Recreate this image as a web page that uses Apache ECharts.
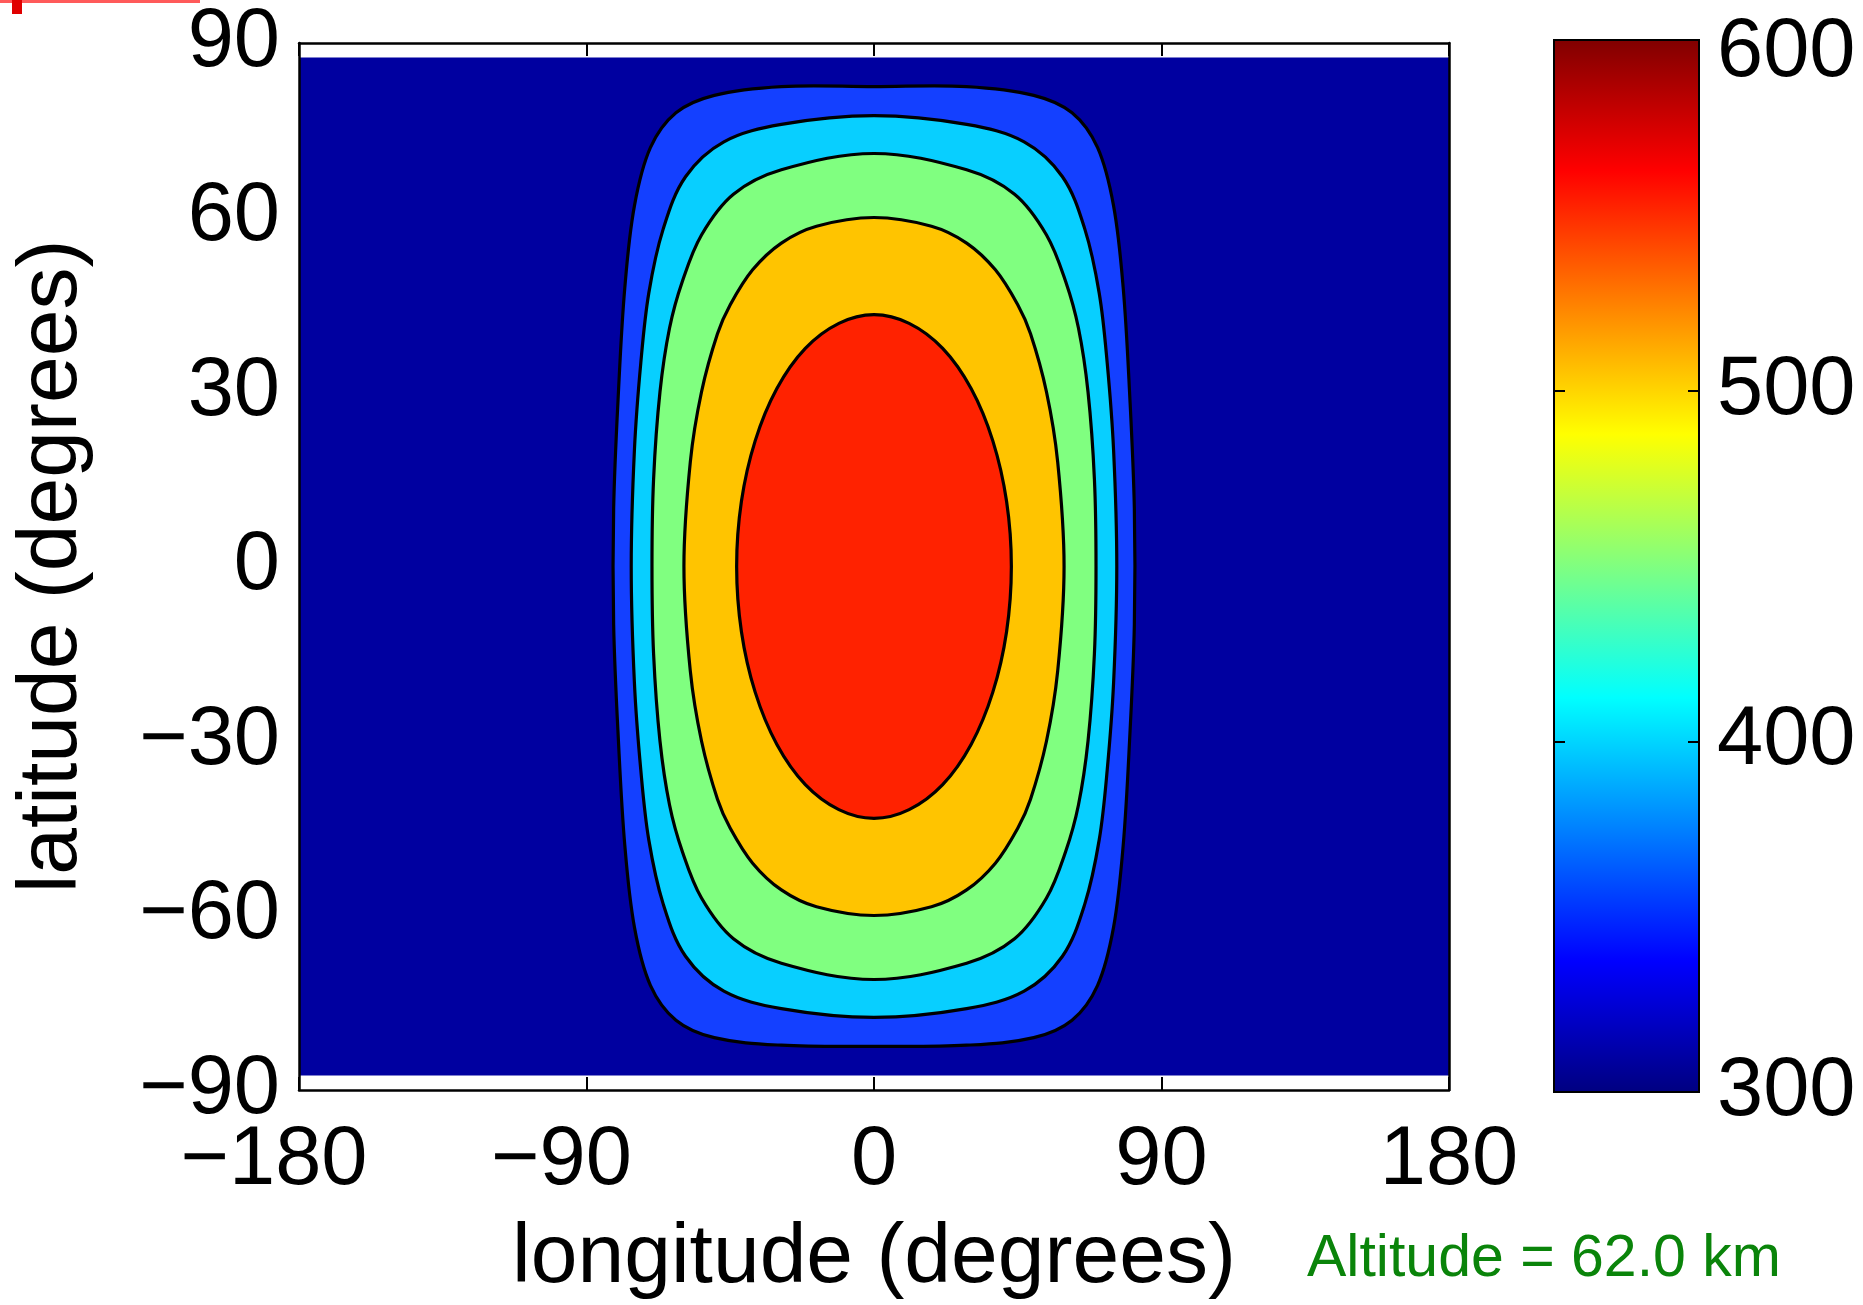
<!DOCTYPE html>
<html>
<head>
<meta charset="utf-8">
<title>Contour chart</title>
<script src="https://cdn.jsdelivr.net/npm/echarts@6/dist/echarts.min.js"></script>
<style>
html,body{margin:0;padding:0;background:#fff;}
#chart{width:1863px;height:1305px;}
</style>
</head>
<body>
<div id="chart"></div>
<script>
// ---------- data ----------
const lonTicks = [-180, -90, 0, 90, 180];
const lonTickLabels = ['\u2212180', '\u221290', '0', '90', '180'];
const latTicks = [-90, -60, -30, 0, 30, 60, 90];
const latTickLabels = ['\u221290', '\u221260', '\u221230', '0', '30', '60', '90'];
const cbarTicks = [300, 400, 500, 600];
const cbarTickLabels = ['300', '400', '500', '600'];
const cbarRange = [300, 600];
const jetColors = ['#000080', '#0000ff', '#0080ff', '#00ffff', '#80ff80', '#ffff00', '#ff8000', '#ff0000', '#800000'];
const bandColors = ['#0000a0', '#1440ff', '#08cfff', '#80ff80', '#ffc400', '#ff2200'];

// filled region of the data grid (lon, lat)
const dataDomain = [[-180, -87.5], [180, -87.5], [180, 87.5], [-180, 87.5]];

// contour lines (lon, lat), outermost first
const contourA = [[0,82.5],[29,82.5],[50,81],[62,78],[70,72],[75,62],[78,48],[80,30],[81.5,10],[81.5,-10],[80,-30],[78,-48],[75,-62],[70,-72],[62,-78],[50,-81],[29,-82.3],[0,-82.5],[-29,-82.3],[-50,-81],[-62,-78],[-70,-72],[-75,-62],[-78,-48],[-80,-30],[-81.5,-10],[-81.5,10],[-80,30],[-78,48],[-75,62],[-70,72],[-62,78],[-50,81],[-29,82.5]];
const contourB = [[0,77.5],[29,76],[47,73],[59,67],[66,58],[70.5,47],[73,35],[75,20],[76,0],[75,-20],[73,-35],[70.5,-47],[66,-58],[59,-67],[47,-73],[29,-76],[0,-77.5],[-29,-76],[-47,-73],[-59,-67],[-66,-58],[-70.5,-47],[-73,-35],[-75,-20],[-76,0],[-75,20],[-73,35],[-70.5,47],[-66,58],[-59,67],[-47,73],[-29,76]];
const contourC = [[0,71],[29,68.2],[44,64],[54,57],[60,49],[64,41],[67,30],[69,15],[69.5,0],[69,-15],[67,-30],[64,-41],[60,-49],[54,-57],[44,-64],[29,-68.2],[0,-71],[-29,-68.2],[-44,-64],[-54,-57],[-60,-49],[-64,-41],[-67,-30],[-69,-15],[-69.5,0],[-69,15],[-67,30],[-64,41],[-60,49],[-54,57],[-44,64],[-29,68.2]];
const contourD = [[0,60],[18,58.5],[29,55.6],[38,51],[45,45],[49,40],[54,30],[57.5,18],[59.5,0],[57.5,-18],[54,-30],[49,-40],[45,-45],[38,-51],[29,-55.6],[18,-58.5],[0,-60],[-18,-58.5],[-29,-55.6],[-38,-51],[-45,-45],[-49,-40],[-54,-30],[-57.5,-18],[-59.5,0],[-57.5,18],[-54,30],[-49,40],[-45,45],[-38,51],[-29,55.6],[-18,58.5]];
const contourE = [[0,43.3],[11,41.8],[21.5,37.5],[30.4,30.6],[37.2,21.6],[41.5,11.2],[43,0],[41.5,-11.2],[37.2,-21.6],[30.4,-30.6],[21.5,-37.5],[11,-41.8],[0,-43.3],[-11,-41.8],[-21.5,-37.5],[-30.4,-30.6],[-37.2,-21.6],[-41.5,-11.2],[-43,0],[-41.5,11.2],[-37.2,21.6],[-30.4,30.6],[-21.5,37.5],[-11,41.8]];

const FONT = '"Liberation Sans", Arial, Helvetica, sans-serif';
const TICK_FS = 83;

function lookup(values, labels) {
  return function (v) {
    for (let i = 0; i < values.length; i++) if (Math.abs(values[i] - v) < 1e-6) return labels[i];
    return '';
  };
}
// x labels: keep digits centred on the tick, the minus sign hangs to the left
function lonFormatter(v) {
  const s = lookup(lonTicks, lonTickLabels)(v);
  return s.charAt(0) === '\u2212' ? s + '{pad| }' : s;
}
// colour bar: top label sits a little lower than its tick
function cbarFormatter(v) {
  const s = lookup(cbarTicks, cbarTickLabels)(v);
  return v === cbarRange[1] ? '{top|' + s + '}' : s;
}

function polySeries(points, fill, stroke) {
  return {
    type: 'custom',
    coordinateSystem: 'cartesian2d',
    xAxisIndex: 0, yAxisIndex: 0,
    z: 2,
    silent: true,
    clip: false,
    encode: { x: 0, y: 1 },
    data: points,
    renderItem: function (params, api) {
      if (params.dataIndex !== 0) return null;
      const pts = points.map(p => api.coord(p));
      return {
        type: 'polygon',
        shape: { points: pts, smooth: stroke ? 0.35 : 0 },
        style: { fill: fill, stroke: stroke ? '#000' : null, lineWidth: stroke ? 3.2 : 0 }
      };
    }
  };
}

const chart = echarts.init(document.getElementById('chart'), null, { renderer: 'canvas' });

const axisLineStyle = { color: '#000', width: 2.5 };

const option = {
  animation: false,
  backgroundColor: '#ffffff',
  grid: [
    { left: 299, top: 43, width: 1150, height: 1047, containLabel: false, outerBoundsMode: 'none' },
    { left: 1554, top: 40, width: 145, height: 1052, containLabel: false, outerBoundsMode: 'none' }
  ],
  xAxis: [
    {
      gridIndex: 0, type: 'value', position: 'bottom',
      min: lonTicks[0], max: lonTicks[lonTicks.length - 1], interval: 90,
      z: 10,
      axisLine: { show: true, onZero: false, lineStyle: axisLineStyle },
      axisTick: { show: true, inside: true, length: 13, lineStyle: { color: '#000', width: 2 } },
      axisLabel: {
        formatter: lonFormatter, fontSize: TICK_FS, color: '#000', fontFamily: FONT, margin: 30,
        rich: { pad: { width: 50, fontSize: TICK_FS, fontFamily: FONT } }
      },
      splitLine: { show: false },
      name: 'longitude (degrees)', nameLocation: 'middle', nameGap: 127,
      nameTextStyle: { fontSize: 84, color: '#000', fontFamily: FONT }
    },
    {
      gridIndex: 0, type: 'value', position: 'top',
      min: lonTicks[0], max: lonTicks[lonTicks.length - 1], interval: 90,
      z: 10,
      axisLine: { show: true, onZero: false, lineStyle: axisLineStyle },
      axisTick: { show: true, inside: true, length: 13, lineStyle: { color: '#000', width: 2 } },
      axisLabel: { show: false },
      splitLine: { show: false }
    },
    {
      gridIndex: 1, type: 'value', min: 0, max: 1, show: false
    }
  ],
  yAxis: [
    {
      gridIndex: 0, type: 'value', position: 'left',
      min: latTicks[0], max: latTicks[latTicks.length - 1], interval: 30,
      z: 10,
      axisLine: { show: true, onZero: false, lineStyle: axisLineStyle },
      axisTick: { show: false },
      axisLabel: { formatter: lookup(latTicks, latTickLabels), fontSize: TICK_FS, color: '#000', fontFamily: FONT, margin: 19 },
      splitLine: { show: false },
      name: 'latitude (degrees)', nameLocation: 'middle', nameGap: 204, nameRotate: 90,
      nameTextStyle: { fontSize: 84, color: '#000', fontFamily: FONT }
    },
    {
      gridIndex: 0, type: 'value', position: 'right',
      min: latTicks[0], max: latTicks[latTicks.length - 1], interval: 30,
      z: 10,
      axisLine: { show: true, onZero: false, lineStyle: axisLineStyle },
      axisTick: { show: false },
      axisLabel: { show: false },
      splitLine: { show: false }
    },
    {
      gridIndex: 1, type: 'value', position: 'right',
      min: cbarRange[0], max: cbarRange[1], interval: 100,
      z: 10,
      axisLine: { show: true, onZero: false, lineStyle: { color: '#000', width: 2 } },
      axisTick: { show: true, inside: true, length: 11, lineStyle: { color: '#000', width: 2 } },
      axisLabel: {
        formatter: cbarFormatter, fontSize: TICK_FS, color: '#000', fontFamily: FONT, margin: 18,
        rich: { top: { fontSize: TICK_FS, fontFamily: FONT, color: '#000', padding: [27, 0, 0, 0] } }
      },
      splitLine: { show: false }
    },
    {
      gridIndex: 1, type: 'value', position: 'left',
      min: cbarRange[0], max: cbarRange[1], interval: 100,
      z: 10,
      axisLine: { show: true, onZero: false, lineStyle: { color: '#000', width: 2 } },
      axisTick: { show: true, inside: true, length: 11, lineStyle: { color: '#000', width: 2 } },
      axisLabel: { show: false },
      splitLine: { show: false }
    }
  ],
  series: [
    polySeries(dataDomain, bandColors[0], false),
    polySeries(contourA, bandColors[1], true),
    polySeries(contourB, bandColors[2], true),
    polySeries(contourC, bandColors[3], true),
    polySeries(contourD, bandColors[4], true),
    polySeries(contourE, bandColors[5], true),
    {
      type: 'custom',
      coordinateSystem: 'cartesian2d',
      xAxisIndex: 2, yAxisIndex: 2,
      z: 2, silent: true,
      encode: { x: 0, y: 1 },
      data: [[0, cbarRange[0]]],
      renderItem: function (params, api) {
        const p0 = api.coord([0, cbarRange[1]]);
        const p1 = api.coord([1, cbarRange[0]]);
        const stops = jetColors.map((c, i) => ({ offset: i / (jetColors.length - 1), color: c }));
        return {
          type: 'rect',
          shape: { x: p0[0], y: p0[1], width: p1[0] - p0[0], height: p1[1] - p0[1] },
          style: {
            fill: new echarts.graphic.LinearGradient(0, 1, 0, 0, stops),
            stroke: '#000', lineWidth: 2
          }
        };
      }
    }
  ],
  graphic: [
    { type: 'rect', left: 0, top: 0, shape: { width: 200, height: 3 }, style: { fill: '#ff5a5a' } },
    { type: 'rect', left: 12, top: 0, shape: { width: 10, height: 14 }, style: { fill: '#e00000' } },
    {
      type: 'text', x: 1307, y: 1260,
      style: { text: 'Altitude = 62.0 km', fontSize: 59, fill: '#0a840a', fontFamily: FONT, align: 'left', verticalAlign: 'middle' }
    }
  ]
};

chart.setOption(option);
</script>
</body>
</html>
